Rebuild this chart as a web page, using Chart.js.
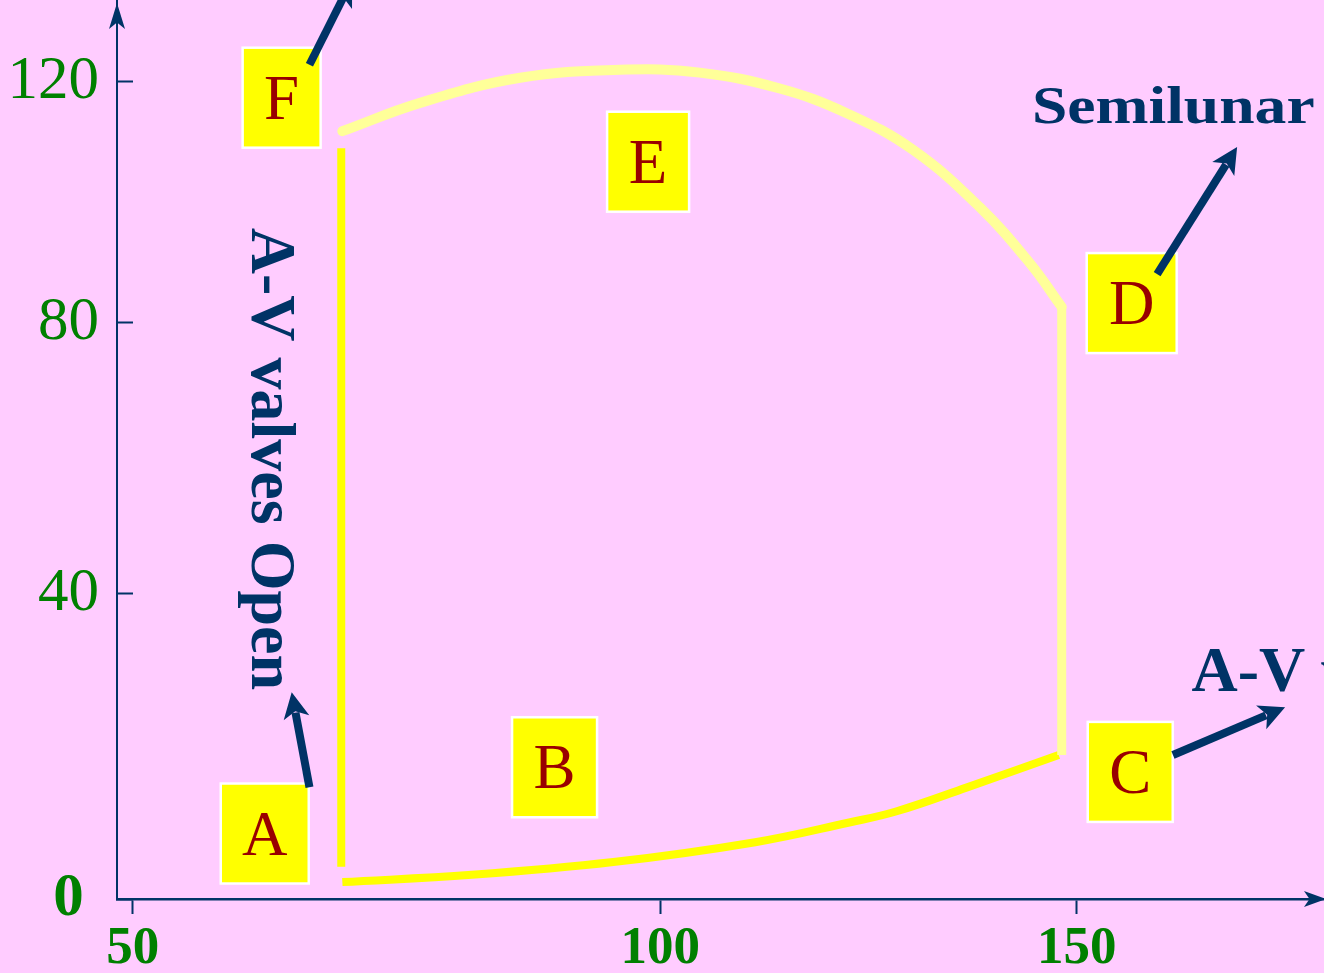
<!DOCTYPE html>
<html>
<head>
<meta charset="utf-8">
<title>Pressure-volume loop</title>
<script src="https://cdn.jsdelivr.net/npm/chart.js@4.4.1/dist/chart.umd.min.js"></script>
<style>
  html, body { margin: 0; padding: 0; background: #ffccff; overflow: hidden; }
  #wrap { width: 1324px; height: 973px; position: relative; }
</style>
</head>
<body>
<div id="wrap"><canvas id="loopChart"></canvas></div>
<script>
// Axis ticks
const volumeTicks = [50, 100, 150];
const pressureTicks = [0, 40, 80, 120];

// Loop segments (volume, pressure)
const ejectionVolume = [68.3, 75.6, 85.4, 95.7, 104.3, 113.3, 121.1, 129.1, 137.4, 143.8, 148.0];
const ejectionPressure = [111.4, 116.3, 120.7, 122.1, 121.6, 118.8, 114.5, 108.2, 98.6, 89.5, 82.5];
const contractionVolume = [148.0, 148.0];
const contractionPressure = [18.3, 82.5];
const fillingVolume = [68.3, 80.6, 95.0, 110.5, 121.4, 127.0, 135.8, 147.6];
const fillingPressure = [2.1, 3.0, 4.6, 7.1, 9.6, 11.0, 14.1, 18.3];
const relaxationVolume = [68.2, 68.2];
const relaxationPressure = [108.5, 4.0];

// Letter boxes, anchored at their centre
const boxLetters = ["A", "B", "C", "D", "E", "F"];
const boxVolume = [61.3, 88.9, 157.2, 157.4, 98.7, 62.8];
const boxPressure = [8.2, 16.7, 16.1, 83.1, 106.2, 117.2];

// Pointer arrows (from -> to)
const arrowFromVolume = [65.3, 160.9, 163.1, 65.3];
const arrowFromPressure = [14.1, 87.7, 18.3, 123.0];
const arrowToVolume = [63.7, 172.2, 179.2, 69.2];
const arrowToPressure = [26.6, 108.7, 24.6, 138.4];

// Valve captions
const captionText = ["Semilunar valves Open", "A-V valves Close", "A-V valves Open"];
const captionVolume = [144.1, 165.7, 60.2];
const captionPressure = [112.8, 26.8, 95.2];

const navy = "#003366";
const serif = "'Liberation Serif', 'Times New Roman', serif";

function points(xs, ys) {
  return xs.map((x, i) => ({ x: x, y: ys[i] }));
}

// Linear scale with a warped spacing (the slide's axes are not evenly spaced)
class WarpedScale extends Chart.LinearScale {
  warp(v) {
    const o = this.options;
    return o.warp === "log" ? Math.log(v + o.warpShift) : 1 - Math.exp(-v / o.warpShift);
  }
  unwarp(t) {
    const o = this.options;
    return o.warp === "log" ? Math.exp(t) - o.warpShift : -o.warpShift * Math.log(1 - t);
  }
  getPixelForValue(value) {
    const a = this.warp(this.min), b = this.warp(this.max);
    return this.getPixelForDecimal((this.warp(value) - a) / (b - a));
  }
  getValueForPixel(pixel) {
    const a = this.warp(this.min), b = this.warp(this.max);
    return this.unwarp(a + this.getDecimalForPixel(pixel) * (b - a));
  }
}
WarpedScale.id = "warped";
WarpedScale.defaults = Chart.LinearScale.defaults;
Chart.register(WarpedScale);

function arrowHead(ctx, x, y, angle, len, half) {
  ctx.save();
  ctx.translate(x, y);
  ctx.rotate(angle);
  ctx.beginPath();
  ctx.moveTo(0, 0);
  ctx.lineTo(-len, -half);
  ctx.lineTo(-len * 0.75, 0);
  ctx.lineTo(-len, half);
  ctx.closePath();
  ctx.fill();
  ctx.restore();
}

const backgroundPlugin = {
  id: "pinkBackground",
  beforeDraw(chart) {
    const ctx = chart.ctx;
    ctx.save();
    ctx.fillStyle = "#ffccff";
    ctx.fillRect(0, 0, chart.width, chart.height);
    ctx.restore();
  }
};

const annotationPlugin = {
  id: "slideAnnotations",
  afterDraw(chart) {
    const ctx = chart.ctx;
    const xs = chart.scales.x, ys = chart.scales.y;
    const area = chart.chartArea;
    ctx.save();

    // axis arrow heads
    ctx.fillStyle = navy;
    arrowHead(ctx, area.left, area.top + 3, -Math.PI / 2, 26, 8);
    arrowHead(ctx, area.right + 2, area.bottom, 0, 22, 8);

    // letter boxes
    const boxW = [88, 85, 85, 90, 82, 78];
    boxLetters.forEach((letter, i) => {
      const cx = xs.getPixelForValue(boxVolume[i]);
      const cy = ys.getPixelForValue(boxPressure[i]);
      const w = boxW[i], h = 100;
      ctx.fillStyle = "#ffff00";
      ctx.fillRect(cx - w / 2, cy - h / 2, w, h);
      ctx.strokeStyle = "#ffffff";
      ctx.lineWidth = 2.5;
      ctx.strokeRect(cx - w / 2, cy - h / 2, w, h);
      ctx.fillStyle = "#990000";
      ctx.font = "63px " + serif;
      ctx.textAlign = "center";
      ctx.textBaseline = "alphabetic";
      ctx.fillText(letter, cx, cy + 21);
    });

    // pointer arrows
    ctx.strokeStyle = navy;
    ctx.fillStyle = navy;
    ctx.lineWidth = 8;
    arrowFromVolume.forEach((v, i) => {
      const x1 = xs.getPixelForValue(v), y1 = ys.getPixelForValue(arrowFromPressure[i]);
      const x2 = xs.getPixelForValue(arrowToVolume[i]), y2 = ys.getPixelForValue(arrowToPressure[i]);
      const ang = Math.atan2(y2 - y1, x2 - x1);
      const len = 26;
      ctx.beginPath();
      ctx.moveTo(x1, y1);
      ctx.lineTo(x2 - Math.cos(ang) * len * 0.8, y2 - Math.sin(ang) * len * 0.8);
      ctx.stroke();
      arrowHead(ctx, x2, y2, ang, len, 13);
    });

    // captions
    ctx.fillStyle = navy;
    ctx.textAlign = "left";
    ctx.textBaseline = "alphabetic";
    // Semilunar (drawn a little wide, like the slide)
    ctx.save();
    ctx.translate(xs.getPixelForValue(captionVolume[0]), ys.getPixelForValue(captionPressure[0]));
    ctx.scale(1.2, 1);
    ctx.font = "bold 53px " + serif;
    ctx.fillText(captionText[0], 0, 0);
    ctx.restore();
    // A-V valves close (runs off the right edge)
    ctx.font = "bold 64px " + serif;
    ctx.fillText(captionText[1], xs.getPixelForValue(captionVolume[1]), ys.getPixelForValue(captionPressure[1]));
    // A-V valves open, rotated
    ctx.save();
    ctx.translate(xs.getPixelForValue(captionVolume[2]), ys.getPixelForValue(captionPressure[2]));
    ctx.rotate(Math.PI / 2);
    ctx.font = "bold 64px " + serif;
    ctx.fillText(captionText[2], 0, 0);
    ctx.restore();

    ctx.restore();
  }
};

const ctx = document.getElementById("loopChart").getContext("2d");
new Chart(ctx, {
  type: "line",
  data: {
    datasets: [
      {
        label: "Ejection",
        data: points(ejectionVolume, ejectionPressure),
        borderColor: "#ffff99",
        borderWidth: 10,
        borderCapStyle: "round",
        tension: 0.4
      },
      {
        label: "Isovolumic contraction",
        data: points(contractionVolume, contractionPressure),
        borderColor: "#ffff99",
        borderWidth: 9
      },
      {
        label: "Filling",
        data: points(fillingVolume, fillingPressure),
        borderColor: "#ffff00",
        borderWidth: 8,
        tension: 0.4
      },
      {
        label: "Isovolumic relaxation",
        data: points(relaxationVolume, relaxationPressure),
        borderColor: "#ffff00",
        borderWidth: 8
      }
    ]
  },
  options: {
    responsive: true,
    maintainAspectRatio: false,
    animation: false,
    layout: { padding: 0 },
    elements: { point: { radius: 0, hoverRadius: 0 } },
    plugins: {
      legend: { display: false },
      tooltip: { enabled: false }
    },
    scales: {
      x: {
        type: "warped",
        warp: "log",
        warpShift: 115,
        min: 48.7,
        max: 185,
        bounds: "data",
        position: "bottom",
        afterBuildTicks: (s) => { s.ticks = volumeTicks.map((v) => ({ value: v })); },
        afterFit: (s) => { s.height = 74; s.paddingLeft = 0; s.paddingRight = 0; },
        grid: { display: true, drawOnChartArea: false, drawTicks: true, tickLength: 15, tickWidth: 2, tickColor: navy },
        border: { display: true, color: navy, width: 2.5 },
        ticks: {
          color: "#008000",
          font: { family: serif, size: 53, weight: "bold", lineHeight: 1 },
          padding: 9,
          maxRotation: 0,
          autoSkip: false,
          callback: (v) => String(v)
        }
      },
      y: {
        type: "warped",
        warp: "exp",
        warpShift: 340,
        min: 0,
        max: 134.7,
        bounds: "data",
        position: "left",
        afterBuildTicks: (s) => { s.ticks = pressureTicks.map((v) => ({ value: v })); },
        afterFit: (s) => { s.width = 117; s.paddingTop = 0; s.paddingBottom = 0; },
        grid: { display: true, drawOnChartArea: false, drawTicks: true, tickLength: -16, tickWidth: 2, tickColor: navy },
        border: { display: true, color: navy, width: 2 },
        ticks: {
          color: "#008000",
          font: (c) => ({ family: serif, size: 61, weight: c.tick && c.tick.value === 0 ? "bold" : "normal", lineHeight: 1 }),
          padding: 34,
          autoSkip: false,
          callback: (v) => (v === 0 ? "0 " : String(v))
        }
      }
    }
  },
  plugins: [backgroundPlugin, annotationPlugin]
});
</script>
</body>
</html>
